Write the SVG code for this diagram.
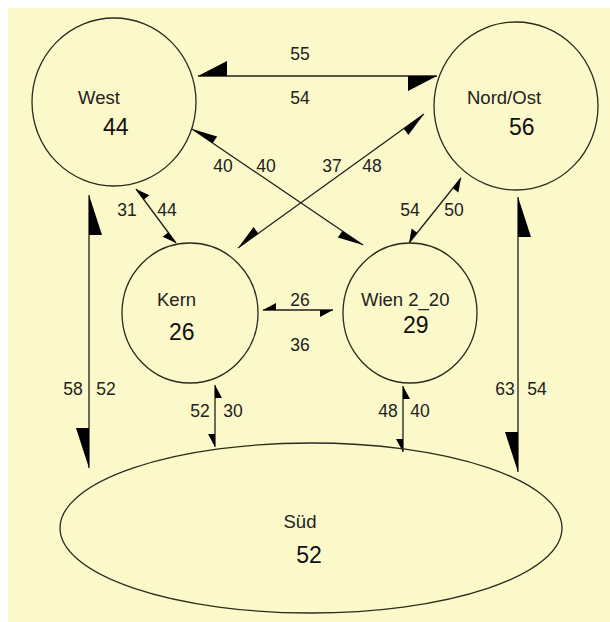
<svg xmlns="http://www.w3.org/2000/svg" width="610" height="622" viewBox="0 0 610 622">
  <style>
    .node { fill: none; stroke: #2b2b1e; stroke-width: 1.3; }
    .name { font-family: "Liberation Sans", Arial, sans-serif; font-size: 18.5px; fill: #222; }
    .num { font-family: "Liberation Sans", Arial, sans-serif; font-size: 23px; fill: #111; }
    .lbl { font-family: "Liberation Sans", Arial, sans-serif; font-size: 17.5px; fill: #222; text-anchor: middle; }
    .edge { stroke: #1e1e1e; stroke-width: 1.3; fill: none; }
    .head { fill: #000; stroke: none; }
  </style>
  <defs>
    <!-- half arrowheads: the filled side sits to the right of the travel direction -->
    <marker id="hBig" markerUnits="userSpaceOnUse" orient="auto-start-reverse" overflow="visible" refX="0" refY="0" markerWidth="1" markerHeight="1">
      <path class="head" d="M0,0 L-40,0 L-40,13 z"/>
    </marker>
    <marker id="hTop" markerUnits="userSpaceOnUse" orient="auto-start-reverse" overflow="visible" refX="0" refY="0" markerWidth="1" markerHeight="1">
      <path class="head" d="M0,0 L-29,0 L-29,15 z"/>
    </marker>
    <marker id="hDiag" markerUnits="userSpaceOnUse" orient="auto-start-reverse" overflow="visible" refX="0" refY="0" markerWidth="1" markerHeight="1">
      <path class="head" d="M0,0 L-25,0 L-25,8 z"/>
    </marker>
    <marker id="hSmall" markerUnits="userSpaceOnUse" orient="auto-start-reverse" overflow="visible" refX="0" refY="0" markerWidth="1" markerHeight="1">
      <path class="head" d="M0,0 L-13,0 L-13,7 z"/>
    </marker>
  </defs>

  <rect x="0" y="0" width="610" height="622" fill="#ffffff"/>
  <rect x="8" y="8" width="602" height="614" fill="#fbf8c9"/>

  <g id="connectors">
    <line class="edge" x1="198" y1="76" x2="437" y2="76" marker-start="url(#hTop)" marker-end="url(#hTop)"/>
    <line class="edge" x1="89" y1="195" x2="89" y2="468" marker-start="url(#hBig)" marker-end="url(#hBig)"/>
    <line class="edge" x1="518" y1="197" x2="518" y2="472" marker-start="url(#hBig)" marker-end="url(#hBig)"/>
    <line class="edge" x1="192" y1="129" x2="363" y2="245" marker-start="url(#hDiag)" marker-end="url(#hDiag)"/>
    <line class="edge" x1="424" y1="114" x2="238" y2="248" marker-start="url(#hDiag)" marker-end="url(#hDiag)"/>
    <line class="edge" x1="136" y1="189" x2="176" y2="243" marker-start="url(#hSmall)" marker-end="url(#hSmall)"/>
    <line class="edge" x1="461" y1="178" x2="409" y2="243" marker-start="url(#hSmall)" marker-end="url(#hSmall)"/>
    <line class="edge" x1="263" y1="310" x2="333" y2="310" marker-start="url(#hSmall)" marker-end="url(#hSmall)"/>
    <line class="edge" x1="215" y1="385" x2="215" y2="447" marker-start="url(#hSmall)" marker-end="url(#hSmall)"/>
    <line class="edge" x1="403" y1="386" x2="403" y2="452" marker-start="url(#hSmall)" marker-end="url(#hSmall)"/>

    <text class="lbl" x="300" y="60">55</text>
    <text class="lbl" x="300" y="104">54</text>
    <text class="lbl" x="223" y="172">40</text>
    <text class="lbl" x="266" y="172">40</text>
    <text class="lbl" x="332" y="172">37</text>
    <text class="lbl" x="372" y="172">48</text>
    <text class="lbl" x="127" y="216">31</text>
    <text class="lbl" x="167" y="216">44</text>
    <text class="lbl" x="410" y="216">54</text>
    <text class="lbl" x="454" y="216">50</text>
    <text class="lbl" x="300" y="306">26</text>
    <text class="lbl" x="300" y="351">36</text>
    <text class="lbl" x="73" y="395">58</text>
    <text class="lbl" x="106" y="395">52</text>
    <text class="lbl" x="505" y="395">63</text>
    <text class="lbl" x="537" y="395">54</text>
    <text class="lbl" x="200" y="417">52</text>
    <text class="lbl" x="233" y="417">30</text>
    <text class="lbl" x="388" y="417">48</text>
    <text class="lbl" x="420" y="417">40</text>
  </g>

  <g id="west">
    <ellipse class="node" cx="114" cy="102" rx="82" ry="84"/>
    <text class="name" x="78" y="104">West</text>
    <text class="num" x="103" y="135">44</text>
  </g>
  <g id="nord-ost">
    <ellipse class="node" cx="516" cy="106" rx="82" ry="84"/>
    <text class="name" x="467" y="104">Nord/Ost</text>
    <text class="num" x="509" y="135">56</text>
  </g>
  <g id="kern">
    <ellipse class="node" cx="190" cy="313" rx="68" ry="70"/>
    <text class="name" x="157" y="306">Kern</text>
    <text class="num" x="169" y="340">26</text>
  </g>
  <g id="wien">
    <ellipse class="node" cx="410" cy="313" rx="67" ry="70"/>
    <text class="name" x="361" y="306">Wien 2_20</text>
    <text class="num" x="403" y="333">29</text>
  </g>
  <g id="sued">
    <ellipse class="node" cx="311" cy="528" rx="251" ry="85"/>
    <text class="name" x="300" y="528" text-anchor="middle">Süd</text>
    <text class="num" x="309" y="563" text-anchor="middle">52</text>
  </g>
</svg>
